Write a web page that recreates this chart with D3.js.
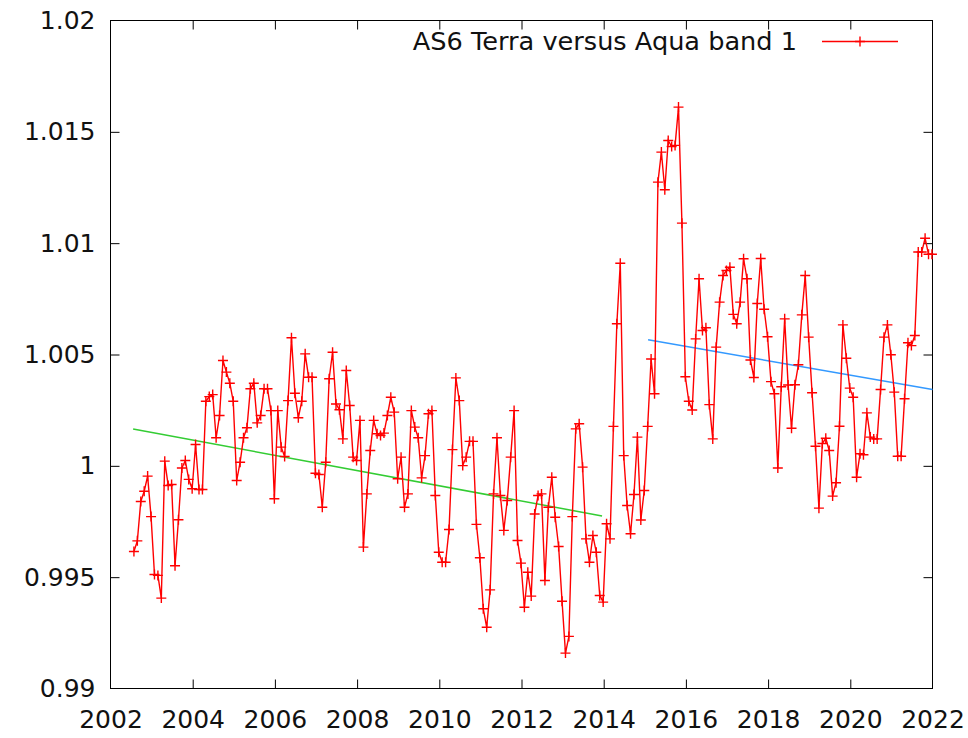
<!DOCTYPE html>
<html><head><meta charset="utf-8">
<script src="https://cdn.jsdelivr.net/npm/d3@7"></script>
<style>
body{margin:0;background:#fff}
svg{display:block}
text{font-family:"DejaVu Sans",sans-serif}
</style>
</head><body>
<svg id="chart" width="968" height="738"></svg>
<script>
// ---- data ----
const seriesName = "AS6 Terra versus Aqua band 1";
const firstSampleYear = 2002.57;   // decimal year of first monthly sample
const monthsPerYear = 12;
const ratio = [
0.99615,0.99663,0.99840,0.99886,0.99954,0.99772,0.99512,0.99508,0.99406,1.00021,
0.99912,0.99916,0.99551,0.99758,0.99990,1.00024,0.99939,0.99897,1.00096,0.99894,
0.99894,1.00290,1.00311,1.00320,1.00126,1.00226,1.00473,1.00421,1.00371,1.00290,
0.99934,1.00016,1.00126,1.00171,1.00346,1.00371,1.00193,1.00226,1.00346,1.00346,
1.00248,0.99852,1.00248,1.00084,1.00042,1.00293,1.00575,1.00326,1.00216,1.00290,
1.00503,1.00398,1.00398,0.99967,0.99961,0.99814,1.00016,1.00391,1.00510,1.00278,
1.00252,1.00121,1.00428,1.00271,1.00039,1.00024,1.00204,0.99635,0.99874,1.00069,
1.00204,1.00144,1.00136,1.00147,1.00226,1.00308,1.00241,0.99942,1.00039,0.99814,
0.99874,1.00248,1.00174,1.00126,0.99946,1.00046,1.00234,1.00248,0.99867,0.99612,
0.99567,0.99567,0.99714,1.00073,1.00395,1.00293,1.00001,1.00039,1.00110,1.00110,
0.99737,0.99587,0.99358,0.99275,0.99443,0.99874,1.00126,0.99867,0.99710,0.99844,
1.00039,1.00248,0.99665,0.99563,0.99365,0.99522,0.99415,0.99784,0.99867,0.99874,
0.99485,0.99814,0.99949,0.99769,0.99638,0.99392,0.99159,0.99234,0.99772,1.00166,
1.00189,0.99994,0.99672,0.99567,0.99687,0.99612,0.99418,0.99388,0.99740,0.99672,
1.00177,1.00638,1.00910,1.00046,0.99822,0.99695,0.99871,1.00129,0.99757,0.99889,
1.00177,1.00480,1.00324,1.01274,1.01409,1.01240,1.01461,1.01434,1.01439,1.01611,
1.01090,1.00400,1.00290,1.00251,1.00570,1.00840,1.00608,1.00620,1.00275,1.00121,
1.00533,1.00735,1.00855,1.00877,1.00892,1.00680,1.00638,1.00735,1.00930,1.00840,
1.00475,1.00397,1.00729,1.00931,1.00703,1.00580,1.00378,1.00324,0.99990,1.00355,
1.00660,1.00363,1.00169,1.00364,1.00454,1.00678,1.00855,1.00578,1.00328,1.00088,
0.99810,1.00100,1.00124,1.00069,0.99864,0.99924,1.00178,1.00633,1.00483,1.00349,
1.00308,0.99949,1.00054,1.00050,1.00238,1.00129,1.00121,1.00121,1.00343,1.00578,
1.00633,1.00499,1.00331,1.00043,1.00043,1.00301,1.00553,1.00540,1.00585,1.00960,
1.00960,1.01022,1.00950,1.00950
];
const trendEarlyYears = [2002.55, 2013.96];
const trendEarlyValues = [1.00165, 0.99775];
const trendLateYears = [2015.08, 2022.0];
const trendLateValues = [1.00566, 1.00343];
const xTicks = [2002,2004,2006,2008,2010,2012,2014,2016,2018,2020,2022];
const yTicks = [0.99,0.995,1.0,1.005,1.01,1.015,1.02];
const yTickLabels = ["0.99","0.995","1","1.005","1.01","1.015","1.02"];

// ---- chart ----
const L = 110.5, R = 932.5, T = 20.5, B = 688.5;
const svg = d3.select("#chart");
const x = d3.scaleLinear().domain([2002, 2022]).range([L, R]);
const y = d3.scaleLinear().domain([0.99, 1.02]).range([B, T]);
const FS = 25;

const pts = ratio.map((v, i) => ({t: firstSampleYear + i / monthsPerYear, v}));

// axes (gnuplot style: inward ticks, mirrored)
const tick = 9;
const gB = svg.append("g").attr("transform", `translate(0,${B})`)
  .call(d3.axisBottom(x).tickValues(xTicks).tickFormat(d3.format("d"))
    .tickSizeInner(-tick).tickSizeOuter(0).tickPadding(22));
const gT = svg.append("g").attr("transform", `translate(0,${T})`)
  .call(d3.axisTop(x).tickValues(xTicks.slice(1, -1)).tickFormat("")
    .tickSizeInner(-tick).tickSizeOuter(0));
const gL = svg.append("g").attr("transform", `translate(${L},0)`)
  .call(d3.axisLeft(y).tickValues(yTicks).tickFormat((d, i) => yTickLabels[i])
    .tickSizeInner(-tick).tickSizeOuter(0).tickPadding(15));
const gR = svg.append("g").attr("transform", `translate(${R},0)`)
  .call(d3.axisRight(y).tickValues(yTicks.slice(1, -1)).tickFormat("")
    .tickSizeInner(-tick).tickSizeOuter(0));
gB.select(".tick:first-of-type line").remove();
gB.select(".tick:last-of-type line").remove();
gL.select(".tick:first-of-type line").remove();
gL.select(".tick:last-of-type line").remove();
[gB, gT, gL, gR].forEach(g => {
  g.select(".domain").remove();
  g.selectAll(".tick line").attr("stroke", "#000").attr("stroke-width", 1);
  g.selectAll("text").attr("font-size", FS).attr("fill", "#111")
    .attr("font-family", "DejaVu Sans, sans-serif");
});

// border
svg.append("rect").attr("x", L).attr("y", T).attr("width", R - L).attr("height", B - T)
  .attr("fill", "none").attr("stroke", "#000").attr("stroke-width", 1);

// trend lines
svg.append("path")
  .datum(trendEarlyYears.map((t, i) => [t, trendEarlyValues[i]]))
  .attr("d", d3.line().x(d => x(d[0])).y(d => y(d[1])))
  .attr("fill", "none").attr("stroke", "#33cc33").attr("stroke-width", 1.5);
svg.append("path")
  .datum(trendLateYears.map((t, i) => [t, trendLateValues[i]]))
  .attr("d", d3.line().x(d => x(d[0])).y(d => y(d[1])))
  .attr("fill", "none").attr("stroke", "#3399ff").attr("stroke-width", 1.5);

// series line
const SW = 1.4;
svg.append("path").datum(pts)
  .attr("d", d3.line().x(d => x(d.t)).y(d => y(d.v)))
  .attr("fill", "none").attr("stroke", "#ff0000").attr("stroke-width", SW);

// crosses
const cs = 5;
svg.append("g").selectAll("path").data(pts).join("path")
  .attr("d", d => {
    const px = x(d.t), py = y(d.v);
    return `M${px - cs},${py}H${px + cs}M${px},${py - cs}V${py + cs}`;
  })
  .attr("stroke", "#ff0000").attr("stroke-width", SW).attr("fill", "none");

// legend
svg.append("text").attr("x", 797).attr("y", 50).attr("text-anchor", "end")
  .attr("font-size", 25.6).attr("fill", "#111").text(seriesName);
svg.append("line").attr("x1", 822).attr("x2", 898).attr("y1", 41.5).attr("y2", 41.5)
  .attr("stroke", "#ff0000").attr("stroke-width", SW);
svg.append("path").attr("d", `M${860 - cs},41.5H${860 + cs}M860,${41.5 - cs}V${41.5 + cs}`)
  .attr("stroke", "#ff0000").attr("stroke-width", SW);
</script>
</body></html>
